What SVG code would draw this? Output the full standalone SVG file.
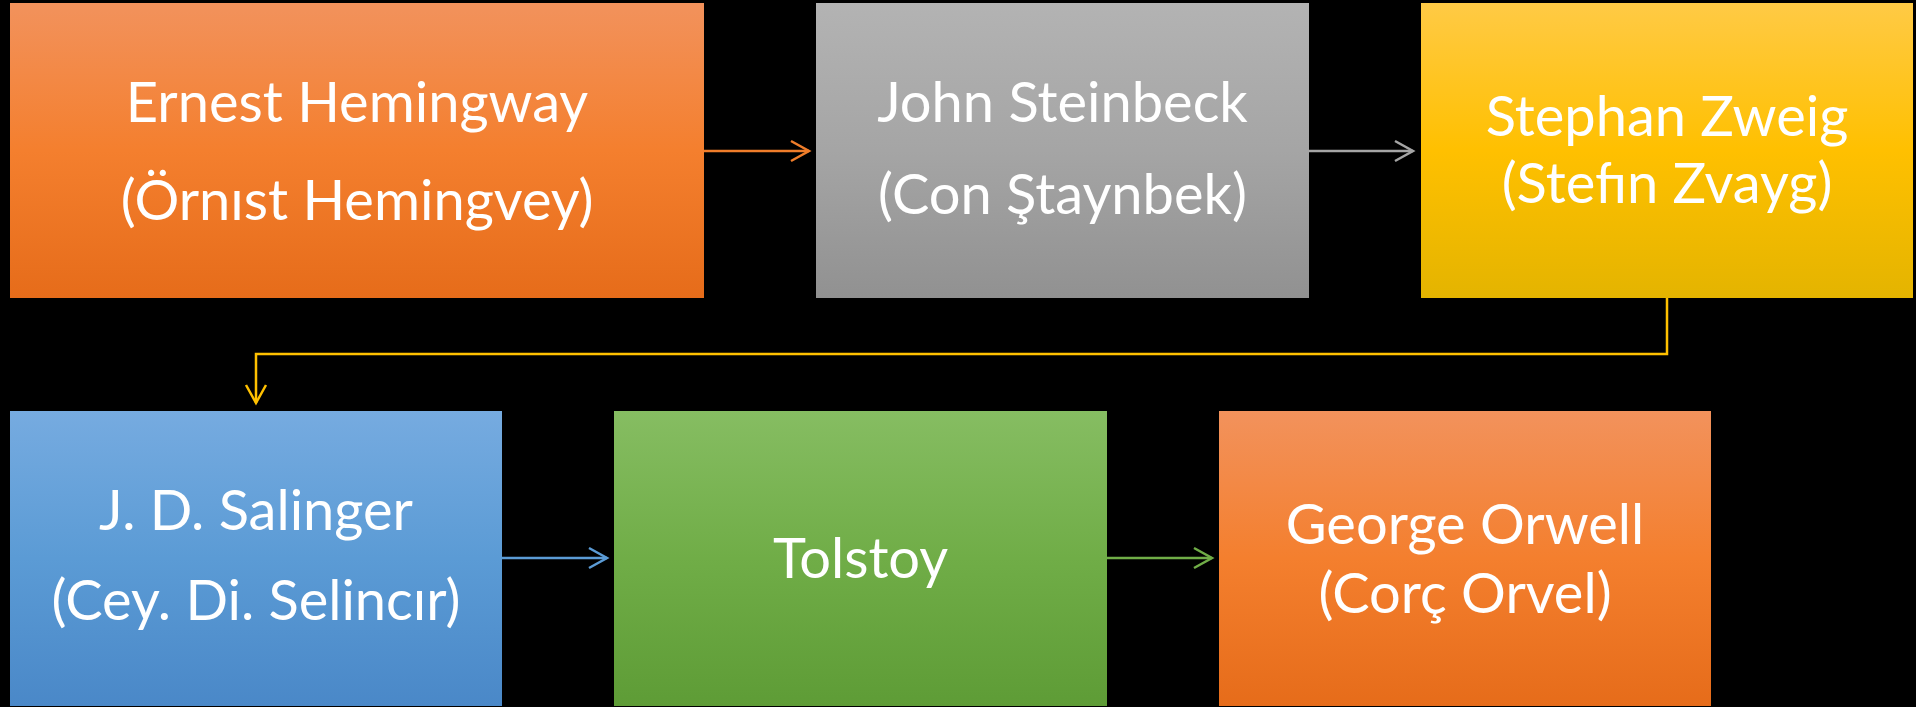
<svg xmlns="http://www.w3.org/2000/svg" width="1916" height="707" viewBox="0 0 1916 707">
<defs>
<linearGradient id="gOrange" x1="0" y1="0" x2="0" y2="1"><stop offset="0" stop-color="#F2925C"/><stop offset="0.5" stop-color="#F47F2E"/><stop offset="1" stop-color="#E66C1A"/></linearGradient>
<linearGradient id="gGray" x1="0" y1="0" x2="0" y2="1"><stop offset="0" stop-color="#B3B3B3"/><stop offset="0.5" stop-color="#A5A5A5"/><stop offset="1" stop-color="#919191"/></linearGradient>
<linearGradient id="gGold" x1="0" y1="0" x2="0" y2="1"><stop offset="0" stop-color="#FFCA45"/><stop offset="0.5" stop-color="#FFC000"/><stop offset="1" stop-color="#E4B400"/></linearGradient>
<linearGradient id="gBlue" x1="0" y1="0" x2="0" y2="1"><stop offset="0" stop-color="#76ABE0"/><stop offset="0.5" stop-color="#5B9BD5"/><stop offset="1" stop-color="#4A88C8"/></linearGradient>
<linearGradient id="gGreen" x1="0" y1="0" x2="0" y2="1"><stop offset="0" stop-color="#86BD62"/><stop offset="0.5" stop-color="#70AD47"/><stop offset="1" stop-color="#5E9C36"/></linearGradient>
<marker id="aOrange" markerUnits="userSpaceOnUse" orient="auto" refX="0" refY="0" markerWidth="30" markerHeight="30" overflow="visible"><path d="M-18,-10 L0,0 L-18,10" fill="none" stroke="#F07D2A" stroke-width="2.5"/></marker>
<marker id="aGray" markerUnits="userSpaceOnUse" orient="auto" refX="0" refY="0" markerWidth="30" markerHeight="30" overflow="visible"><path d="M-18,-10 L0,0 L-18,10" fill="none" stroke="#A5A5A5" stroke-width="2.5"/></marker>
<marker id="aGold" markerUnits="userSpaceOnUse" orient="auto" refX="0" refY="0" markerWidth="30" markerHeight="30" overflow="visible"><path d="M-18,-10 L0,0 L-18,10" fill="none" stroke="#FFC000" stroke-width="2.5"/></marker>
<marker id="aBlue" markerUnits="userSpaceOnUse" orient="auto" refX="0" refY="0" markerWidth="30" markerHeight="30" overflow="visible"><path d="M-18,-10 L0,0 L-18,10" fill="none" stroke="#5B9BD5" stroke-width="2.5"/></marker>
<marker id="aGreen" markerUnits="userSpaceOnUse" orient="auto" refX="0" refY="0" markerWidth="30" markerHeight="30" overflow="visible"><path d="M-18,-10 L0,0 L-18,10" fill="none" stroke="#70AD47" stroke-width="2.5"/></marker>
</defs>
<style>
.lbl{font-family:Lato,"Open Sans","Liberation Sans",sans-serif;fill:#FFFFFF;text-anchor:middle;font-size:56px}
.conn{fill:none;stroke-width:2.5}
</style>
<rect x="0" y="0" width="1916" height="707" fill="#000000"/>
<g id="connectors">
<path class="conn" d="M704,151 H809" stroke="#F07D2A" marker-end="url(#aOrange)"/>
<path class="conn" d="M1309,151 H1413" stroke="#A5A5A5" marker-end="url(#aGray)"/>
<path class="conn" d="M1667,298 V354 H256 V403" stroke="#FFC000" marker-end="url(#aGold)"/>
<path class="conn" d="M502,558 H607" stroke="#5B9BD5" marker-end="url(#aBlue)"/>
<path class="conn" d="M1107,558 H1212" stroke="#70AD47" marker-end="url(#aGreen)"/>
</g>
<g id="hemingway">
<rect x="10" y="3" width="694" height="295" fill="url(#gOrange)"/>
<text class="lbl" x="357" y="122">Ernest Hemingway</text>
<text class="lbl" x="357" y="220">(Örnıst Hemingvey)</text>
</g>
<g id="steinbeck">
<rect x="816" y="3" width="493" height="295" fill="url(#gGray)"/>
<text class="lbl" x="1062.5" y="122">John Steinbeck</text>
<text class="lbl" x="1062.5" y="214">(Con Ştaynbek)</text>
</g>
<g id="zweig">
<rect x="1421" y="3" width="492" height="295" fill="url(#gGold)"/>
<text class="lbl" x="1667" y="136">Stephan Zweig</text>
<text class="lbl" x="1667" y="203">(Stefın Zvayg)</text>
</g>
<g id="salinger">
<rect x="10" y="411" width="492" height="295" fill="url(#gBlue)"/>
<text class="lbl" x="256" y="530">J. D. Salinger</text>
<text class="lbl" x="256" y="620">(Cey. Di. Selincır)</text>
</g>
<g id="tolstoy">
<rect x="614" y="411" width="493" height="295" fill="url(#gGreen)"/>
<text class="lbl" x="860.5" y="578">Tolstoy</text>
</g>
<g id="orwell">
<rect x="1219" y="411" width="492" height="295" fill="url(#gOrange)"/>
<text class="lbl" x="1465" y="544">George Orwell</text>
<text class="lbl" x="1465" y="613">(Corç Orvel)</text>
</g>
</svg>
